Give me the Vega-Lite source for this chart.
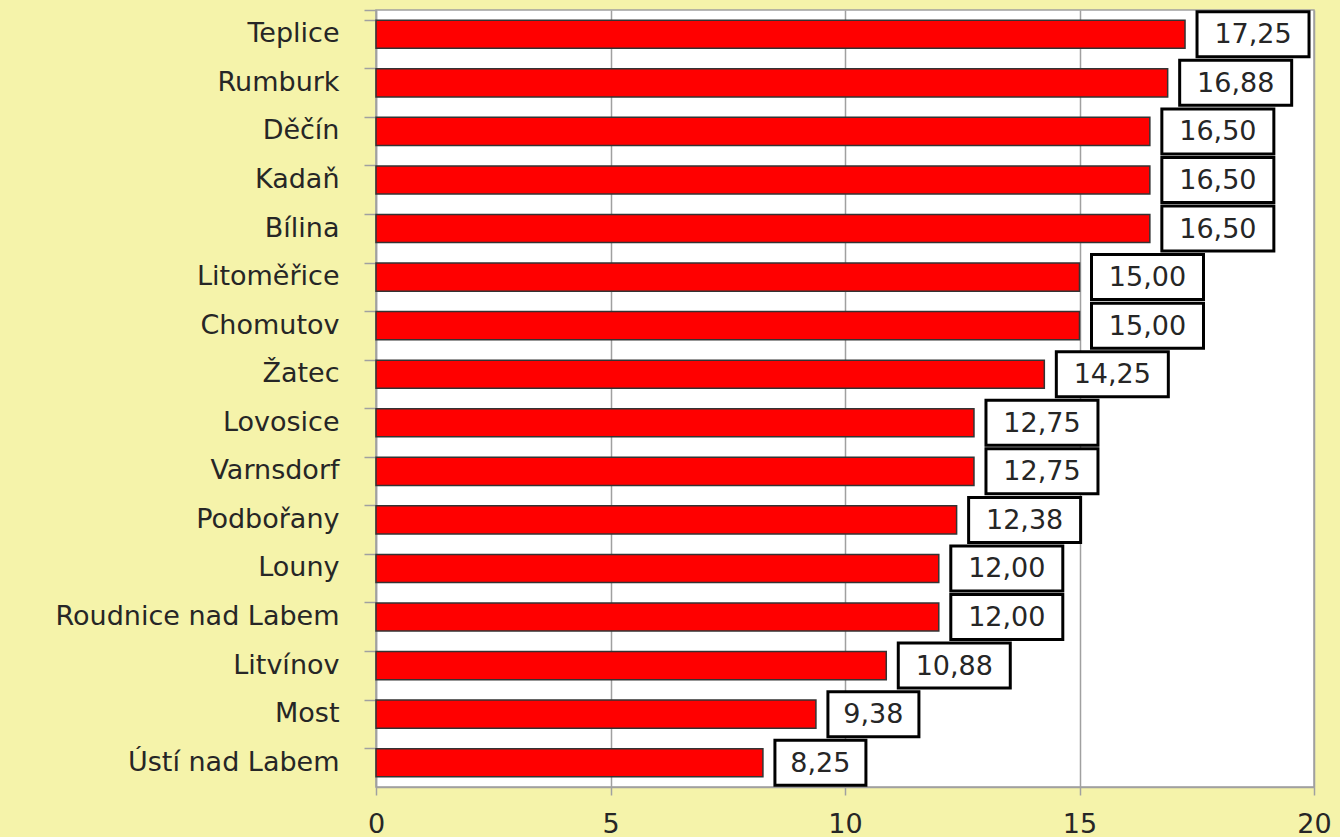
{
  "$schema": "https://vega.github.io/schema/vega-lite/v6.json",
  "width": 938,
  "height": 777,
  "autosize": {"type": "none"},
  "padding": {"left": 376, "top": 10, "right": 26, "bottom": 50},
  "background": "#F5F3AA",
  "config": {
    "view": {"fill": "white", "stroke": "#A0A0A0", "strokeWidth": 1.5},
    "font": "DejaVu Sans"
  },
  "data": {
    "values": [
      {"city": "Teplice", "value": 17.25, "label": "17,25"},
      {"city": "Rumburk", "value": 16.88, "label": "16,88"},
      {"city": "Děčín", "value": 16.5, "label": "16,50"},
      {"city": "Kadaň", "value": 16.5, "label": "16,50"},
      {"city": "Bílina", "value": 16.5, "label": "16,50"},
      {"city": "Litoměřice", "value": 15.0, "label": "15,00"},
      {"city": "Chomutov", "value": 15.0, "label": "15,00"},
      {"city": "Žatec", "value": 14.25, "label": "14,25"},
      {"city": "Lovosice", "value": 12.75, "label": "12,75"},
      {"city": "Varnsdorf", "value": 12.75, "label": "12,75"},
      {"city": "Podbořany", "value": 12.38, "label": "12,38"},
      {"city": "Louny", "value": 12.0, "label": "12,00"},
      {"city": "Roudnice nad Labem", "value": 12.0, "label": "12,00"},
      {"city": "Litvínov", "value": 10.88, "label": "10,88"},
      {"city": "Most", "value": 9.38, "label": "9,38"},
      {"city": "Ústí nad Labem", "value": 8.25, "label": "8,25"}
    ]
  },
  "encoding": {
    "y": {
      "field": "city",
      "type": "nominal",
      "sort": null,
      "scale": {"paddingInner": 0.42, "paddingOuter": 0.21},
      "axis": {
        "title": null,
        "bandPosition": 0,
        "tickExtra": true,
        "tickSize": 12,
        "tickColor": "#A0A0A0",
        "tickWidth": 1.5,
        "domainColor": "#A0A0A0",
        "domainWidth": 1.5,
        "labelFontSize": 27,
        "labelColor": "#262626",
        "labelPadding": 25,
        "labelLimit": 400,
        "labelFont": "DejaVu Sans"
      }
    }
  },
  "layer": [
    {
      "mark": {"type": "bar", "color": "#FF0000", "stroke": "#333333", "strokeWidth": 1.5},
      "encoding": {
        "x": {
          "field": "value",
          "type": "quantitative",
          "scale": {"domain": [0, 20]},
          "axis": {
            "title": null,
            "values": [0, 5, 10, 15, 20],
            "grid": true,
            "gridColor": "#A0A0A0",
            "gridWidth": 1.5,
            "tickSize": 8,
            "tickColor": "#A0A0A0",
            "tickWidth": 1.5,
            "domainColor": "#A0A0A0",
            "domainWidth": 1.5,
            "labelFontSize": 27,
            "labelColor": "#262626",
            "labelPadding": 16,
            "labelFlush": false,
            "labelFont": "DejaVu Sans"
          }
        }
      }
    },
    {
      "transform": [{"filter": "length(datum.label) == 5"}],
      "mark": {"type": "bar", "height": 45, "xOffset": 12, "x2Offset": 124, "fill": "white", "stroke": "black", "strokeWidth": 3},
      "encoding": {
        "x": {"field": "value", "type": "quantitative"},
        "x2": {"field": "value"}
      }
    },
    {
      "transform": [{"filter": "length(datum.label) == 4"}],
      "mark": {"type": "bar", "height": 45, "xOffset": 12, "x2Offset": 103, "fill": "white", "stroke": "black", "strokeWidth": 3},
      "encoding": {
        "x": {"field": "value", "type": "quantitative"},
        "x2": {"field": "value"}
      }
    },
    {
      "transform": [{"filter": "length(datum.label) == 5"}],
      "mark": {"type": "text", "dx": 68, "dy": 1, "align": "center", "baseline": "middle", "fontSize": 27, "color": "#262626", "font": "DejaVu Sans"},
      "encoding": {
        "x": {"field": "value", "type": "quantitative"},
        "text": {"field": "label"}
      }
    },
    {
      "transform": [{"filter": "length(datum.label) == 4"}],
      "mark": {"type": "text", "dx": 57.5, "dy": 1, "align": "center", "baseline": "middle", "fontSize": 27, "color": "#262626", "font": "DejaVu Sans"},
      "encoding": {
        "x": {"field": "value", "type": "quantitative"},
        "text": {"field": "label"}
      }
    }
  ]
}
